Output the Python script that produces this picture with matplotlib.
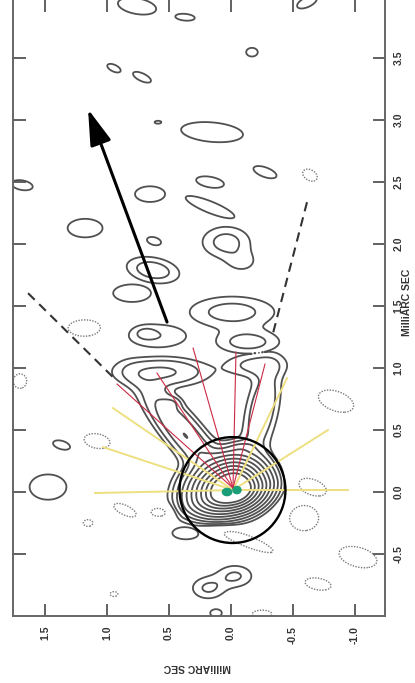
import numpy as np
import matplotlib.pyplot as plt
from matplotlib.patches import Circle, Ellipse

# --- core (piecewise exponential brightness), belongs to group 0 ---
core_u, core_v = -0.016, 0.014
core_amp = 12600.0
core_sx_left, core_sx_right = 0.057, 0.046
core_sy_up, core_sy_down = 0.042, 0.030
core_ang = 15

# --- gaussian components: u, v (mas), amplitude, sigmas (mas), angle (deg on page), group ---
# components of one group are summed, groups are drawn separately
comp_u   = [0.371, -0.250, 0.556, 0.476, -0.081, -0.194,
            -0.008, -0.137, 0.589, 0.694, 0.040, -0.089, 0.185, -0.032, 0.629,
            0.758, 0.371, 0.944, 0.718, 0.589, 0.153, 1.685, 0.653, 1.177, 0.621,
            -0.613, -0.169, -0.274, 0.169, 0.169, 0.798, 1.363, 1.476, 0.363, 0.121]
comp_v   = [0.457, 0.659, 0.965, 0.715, 0.352, 1.022,
            1.449, 1.207, 1.256, 1.280, 2.014, 1.852, -0.777, -0.680, 1.788,
            3.917, 3.828, 3.417, 3.344, 2.981, 2.901, 2.473, 2.401, 2.127, 2.022,
            3.949, 3.546, 2.578, 2.498, 2.296, 1.602, 0.377, 0.038, -0.333, -0.978]
comp_amp = [8.0, 3.8, 4.5, 2.0, 2.5, 2.5,
            2.7, 2.7, 1.9, 1.2, 2.6, 1.3, 2.2, 2.2, 3.0,
            1.6, 1.6, 1.6, 1.6, 1.6, 1.6, 1.6, 1.6, 1.6, 1.6,
            1.6, 1.6, 1.6, 1.6, 1.6, 1.6, 1.6, 1.6, 1.6, 1.6]
comp_a   = [0.300, 0.242, 0.226, 0.048, 0.065, 0.161,
            0.242, 0.177, 0.200, 0.060, 0.137, 0.097, 0.097, 0.105, 0.145,
            0.161, 0.081, 0.060, 0.081, 0.028, 0.258, 0.089, 0.125, 0.145, 0.060,
            0.089, 0.048, 0.101, 0.117, 0.218, 0.157, 0.077, 0.153, 0.113, 0.048]
comp_b   = [0.080, 0.081, 0.073, 0.032, 0.032, 0.065,
            0.089, 0.065, 0.080, 0.035, 0.089, 0.065, 0.065, 0.065, 0.069,
            0.065, 0.028, 0.028, 0.032, 0.012, 0.081, 0.040, 0.065, 0.077, 0.032,
            0.040, 0.036, 0.040, 0.044, 0.048, 0.073, 0.036, 0.105, 0.052, 0.032]
comp_ang = [-50, 78, 0, 0, 0, 0,
            0, 0, 0, 0, 0, 0, 0, 0, -10,
            -10, -5, -25, -25, 0, -5, -10, 0, 0, -15,
            25, 0, -20, -10, -22, 0, -15, 0, 0, 0]
comp_grp = [0, 0, 0, 0, 0, 0,
            1, 1, 2, 2, 3, 3, 4, 4, 5,
            6, 7, 8, 9, 10, 11, 12, 13, 14, 15,
            16, 17, 18, 19, 20, 21, 22, 23, 24, 25]

# negative components (dotted contours)
neg_u   = [-0.637, 1.177, 1.702, 1.081, 0.855, 0.565, 1.153, 0.944, -0.250, -0.653,
           -0.589, -0.113, -1.024, -0.702, -0.847]
neg_v   = [2.554, 1.320, 0.893, 0.409, -0.148, -0.164, -0.252, -0.825, -0.986, 0.038,
           -0.212, -0.390, -0.527, -0.744, 0.731]
neg_a   = [0.065, 0.141, 0.056, 0.109, 0.101, 0.089, 0.040, 0.032, 0.081, 0.125,
           0.121, 0.250, 0.161, 0.109, 0.153]
neg_b   = [0.044, 0.069, 0.060, 0.060, 0.040, 0.044, 0.028, 0.020, 0.032, 0.065,
           0.105, 0.048, 0.081, 0.048, 0.081]
neg_ang = [-30, 0, 0, -10, -25, 0, 0, 0, 0, -20,
           0, -22, -15, -10, -20]

pos_levels = [1, 2, 4, 8, 16, 32, 64, 128, 256, 512]
neg_levels = [-1]

# overlay lines (mas)
red_end_u = [0.919, 0.597, 0.306, -0.040, -0.274]
red_end_v = [0.869, 0.957, 1.159, 1.127, 1.030]
red_origin = (-0.016, 0.030)
yel_end_u = [1.097, 1.032, 0.952, -0.452, -0.782, -0.944]
yel_end_v = [-0.010, 0.360, 0.675, 0.917, 0.498, 0.014]
yel_origin = (-0.016, 0.014)
dash_left = ([1.637, 0.952], [1.602, 0.925])
dash_right = ([-0.613, -0.339], [2.336, 1.280])
arrow_tail = (0.516, 1.369)
arrow_tip = (1.153, 3.086)
beam_center = (-0.012, 0.014)
beam_radius = 0.427
dots_u = [0.032, -0.048]
dots_v = [-0.002, 0.014]

xticks = [1.5, 1.0, 0.5, 0.0, -0.5, -1.0]
yticks = [-0.5, 0.0, 0.5, 1.0, 1.5, 2.0, 2.5, 3.0, 3.5]

plt.rcParams['font.family'] = ['Liberation Sans', 'DejaVu Sans']

# build the map
U, V = np.meshgrid(np.linspace(-1.3, 1.8, 800), np.linspace(-1.05, 4.05, 1300))


def rot(u0, v0, ang):
    dxs = -(U - u0)          # page right
    dys = V - v0             # page up
    t = np.deg2rad(ang)
    return dxs * np.cos(t) + dys * np.sin(t), -dxs * np.sin(t) + dys * np.cos(t)


def gauss(u0, v0, amp, a, b, ang):
    xr, yr = rot(u0, v0, ang)
    return amp * np.exp(-0.5 * ((xr / a) ** 2 + (yr / b) ** 2))


xr, yr = rot(core_u, core_v, core_ang)
sx = np.where(xr < 0, core_sx_left, core_sx_right)
sy = np.where(yr > 0, core_sy_up, core_sy_down)
groups = {0: core_amp * np.exp(-np.hypot(xr / sx, yr / sy))}
for i in range(len(comp_u)):
    g = gauss(comp_u[i], comp_v[i], comp_amp[i], comp_a[i], comp_b[i], comp_ang[i])
    groups[comp_grp[i]] = groups.get(comp_grp[i], 0) + g
field = np.max(np.array(list(groups.values())), axis=0)
neg = np.zeros_like(field)
for i in range(len(neg_u)):
    neg = np.maximum(neg, gauss(neg_u[i], neg_v[i], 1.6, neg_a[i], neg_b[i], neg_ang[i]))
field = field - neg

fig = plt.figure(figsize=(4.15, 6.83), dpi=100)
ax = fig.add_axes([13.3 / 415, 67 / 683, (385 - 13.3) / 415, 617 / 683])

ax.contour(U, V, field, levels=pos_levels, colors='#505050', linewidths=1.3)
ax.contour(U, V, field, levels=neg_levels, colors='#7a7a7a', linewidths=1.0,
           linestyles=[(0, (1, 1))])

for eu, ev in zip(yel_end_u, yel_end_v):
    ax.plot([yel_origin[0], eu], [yel_origin[1], ev], color='#eedf80', lw=1.4, zorder=3)
for eu, ev in zip(red_end_u, red_end_v):
    ax.plot([red_origin[0], eu], [red_origin[1], ev], color='#cc2a44', lw=0.8, zorder=4)

ax.plot(*dash_left, color='#333333', lw=1.5, ls=(0, (4.5, 3)), zorder=4)
ax.plot(*dash_right, color='#333333', lw=1.5, ls=(0, (4.5, 3)), zorder=4)

ax.annotate('', xy=arrow_tip, xytext=arrow_tail,
            arrowprops=dict(arrowstyle='-|>,head_length=1.1,head_width=0.33',
                            mutation_scale=20, lw=2.2, color='black',
                            shrinkA=0, shrinkB=0), zorder=5)

ax.add_patch(Circle(beam_center, beam_radius, fill=False, ec='black', lw=1.7, zorder=5))
ax.add_patch(Ellipse((dots_u[0], dots_v[0]), 0.075, 0.058, color='#1a9e77', zorder=6))
ax.add_patch(Ellipse((dots_u[1], dots_v[1]), 0.065, 0.058, color='#1a9e77', zorder=6))

ax.set_xlim(1.756, -1.242)
ax.set_ylim(-1.002, 3.975)
ax.set_aspect('auto')

ax.set_xticks(xticks)
ax.set_yticks(yticks)
ax.set_xticklabels(['%.1f' % t for t in xticks], rotation=90, fontsize=7.5,
                   fontweight='bold', color='#333333')
ax.set_yticklabels(['%.1f' % t for t in yticks], rotation=90, fontsize=7.5,
                   fontweight='bold', color='#333333', va='center')
ax.tick_params(direction='in', top=True, right=True, left=True, bottom=True,
               labelleft=False, labelright=True, length=9, width=1.3,
               color='#555555')
ax.tick_params(axis='x', pad=7)
ax.tick_params(axis='y', pad=6)
for s in ax.spines.values():
    s.set_color('#666666')
    s.set_linewidth(1.4)

fig.text(197 / 415, 1 - 667 / 683, 'MilliARC SEC', rotation=180, ha='center', va='center',
         fontsize=7.5, fontweight='bold', color='#333333')
fig.text(407 / 415, 1 - 302 / 683, 'MilliARC SEC', rotation=90, ha='center', va='center',
         fontsize=7.5, fontweight='bold', color='#333333')

fig.savefig('out.png', dpi=100)
